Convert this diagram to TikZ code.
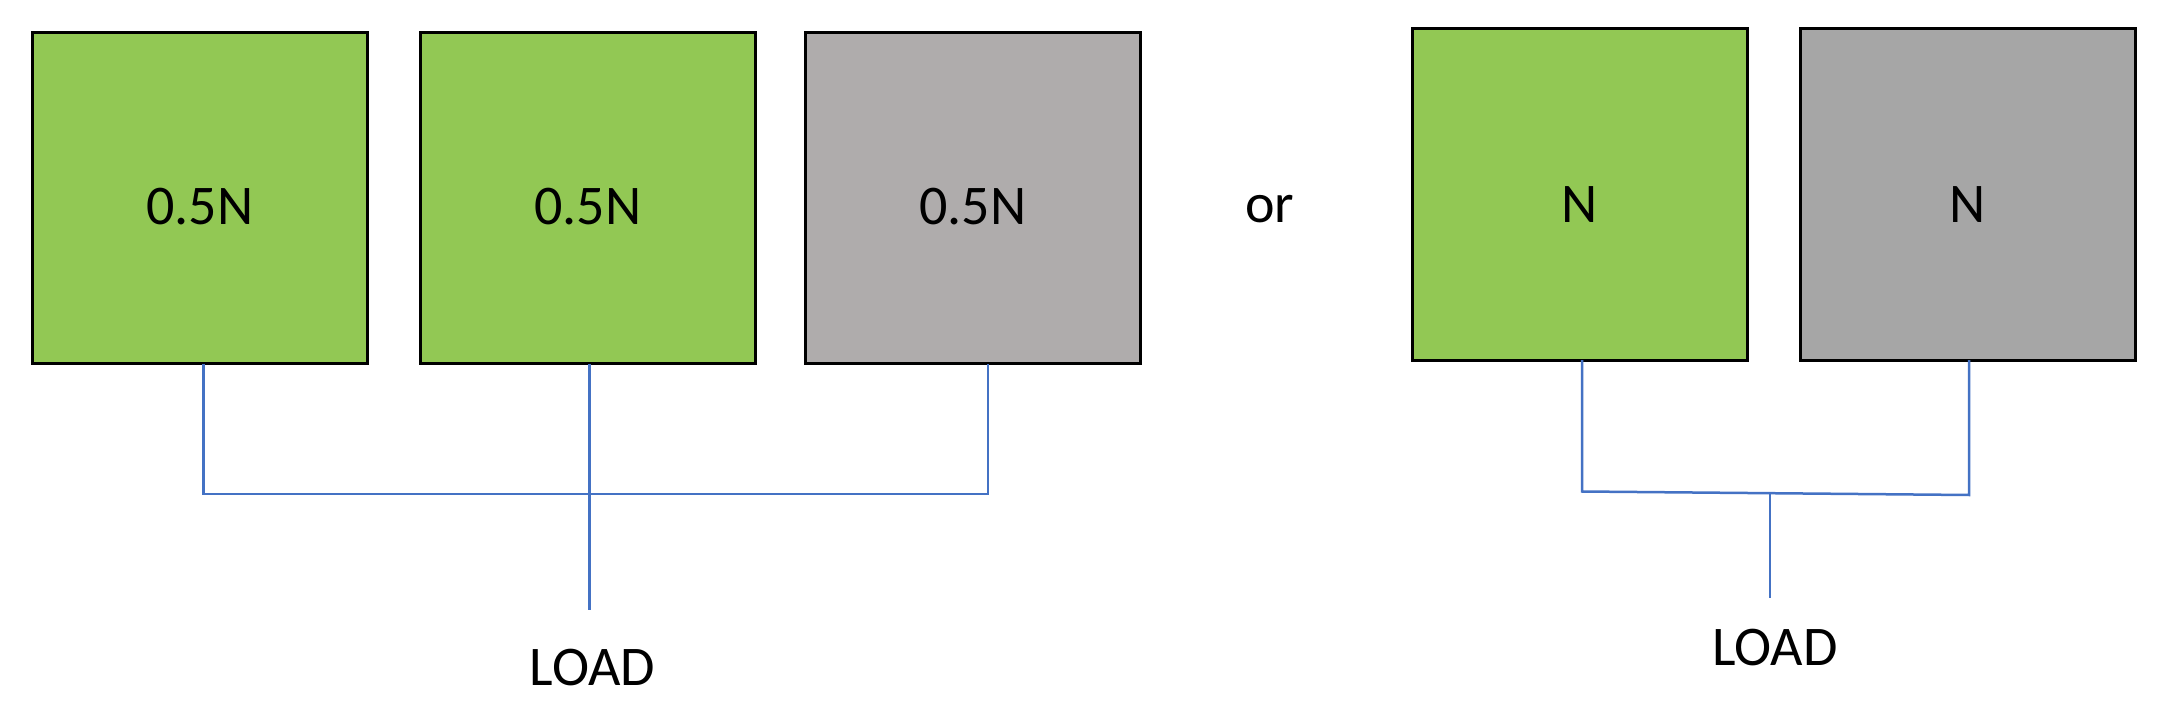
\documentclass[tikz,border=0pt]{standalone}
\usepackage{fontspec}
\setmainfont{Carlito}
\definecolor{boxgreen}{RGB}{146,200,84}
\definecolor{boxgrayA}{RGB}{175,172,172}
\definecolor{boxgrayB}{RGB}{166,166,166}
\definecolor{wire}{RGB}{68,114,196}
\begin{document}
\begin{tikzpicture}[x=1pt,y=-1pt,
  cell/.style={draw=black,line width=3pt,minimum width=335pt,minimum height=331pt,inner sep=0pt,outer sep=0pt,anchor=north west},
  lbl/.style={font=\fontsize{56}{60}\selectfont,inner sep=0pt,anchor=base},
  wireline/.style={draw=wire,line width=2.5pt}]
\useasboundingbox (0,0) rectangle (2172,714);
% left group
\node[cell,fill=boxgreen] (b1) at (32.5,32.5) {};
\node[cell,fill=boxgreen] (b2) at (420.5,32.5) {};
\node[cell,fill=boxgrayA] (b3) at (805.5,32.5) {};
\node[lbl] (t1) at (200,225) {0.5N};
\node[lbl] (t2) at (588,225) {0.5N};
\node[lbl] (t3) at (973,225) {0.5N};
\node[lbl] (or) at (1270,222.5) {or};
% right group
\node[cell,fill=boxgreen] (b4) at (1412.5,29) {};
\node[cell,fill=boxgrayB] (b5) at (1800,29) {};
\node[lbl] (t4) at (1580,223) {N};
\node[lbl] (t5) at (1967.5,223) {N};
% loads
\node[lbl] (load1) at (592.5,685) {LOAD};
\node[lbl] (load2) at (1775,665) {LOAD};
% left connectors
\coordinate (j1) at (203.5,494);
\coordinate (j3) at (988,494);
\coordinate (e2) at (589.5,610);
\draw[wireline] (b1.south -| j1) -- (j1) -- (j3) -- (b3.south -| j3);
\draw[wireline] (b2.south -| e2) -- (e2);
% right connectors
\coordinate (k1) at (1582,491.5);
\coordinate (k2) at (1969,495);
\coordinate (km) at (1770,493.3);
\coordinate (ke) at (1770,598);
\draw[wireline] (b4.south -| k1) -- (k1) -- (k2) -- (b5.south -| k2);
\draw[wireline] (km) -- (ke);
\end{tikzpicture}
\end{document}
